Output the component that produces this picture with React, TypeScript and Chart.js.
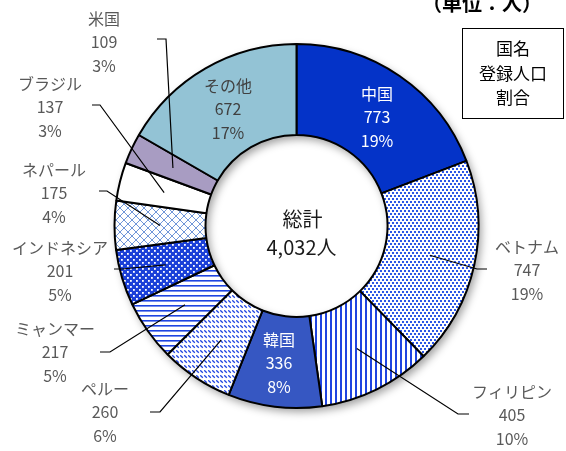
import React, { useEffect, useRef } from "react";
import { Chart, registerables } from "chart.js";

Chart.register(...registerables);

// ---- data ----
const countries = ["中国", "ベトナム", "フィリピン", "韓国", "ペルー", "ミャンマー", "インドネシア", "ネパール", "ブラジル", "米国", "その他"];
const population = [773, 747, 405, 336, 260, 217, 201, 175, 137, 109, 672];
const totalLabel = "総計";
const unitLabel = "人";
const titleText = "（単位：人）";
const legendLines = ["国名", "登録人口", "割合"];

// ---- label layout (text anchor, elbow, leader end) ----
type LabelLayout =
  | { kind: "inside"; tx: number; ty: number; color: string }
  | { kind: "outside"; tx: number; ty: number; ex: number; ey: number; hx: number };

const labelLayout: LabelLayout[] = [
  { kind: "inside", tx: 377, ty: 117, color: "#ffffff" },
  { kind: "outside", tx: 527, ty: 270, ex: 477, ey: 269, hx: 487 },
  { kind: "outside", tx: 512, ty: 415, ex: 458, ey: 414, hx: 469 },
  { kind: "inside", tx: 279, ty: 363, color: "#ffffff" },
  { kind: "outside", tx: 105, ty: 412, ex: 160, ey: 412, hx: 150 },
  { kind: "outside", tx: 55, ty: 352, ex: 110, ey: 352, hx: 100 },
  { kind: "outside", tx: 60, ty: 271, ex: 122, ey: 269, hx: 114 },
  { kind: "outside", tx: 54, ty: 193, ex: 107, ey: 191, hx: 99 },
  { kind: "outside", tx: 50, ty: 107, ex: 100, ey: 105, hx: 92 },
  { kind: "outside", tx: 104, ty: 42, ex: 166, ey: 39, hx: 157 },
  { kind: "inside", tx: 228, ty: 109, color: "#404040" },
];

const FONT = '"Noto Sans CJK JP", "Noto Sans", sans-serif';
const BLUE = "#1f44e0";

function makePattern(w: number, h: number, draw: (g: CanvasRenderingContext2D) => void) {
  const c = document.createElement("canvas");
  c.width = w;
  c.height = h;
  const g = c.getContext("2d")!;
  draw(g);
  return g.createPattern(c, "repeat") as CanvasPattern;
}

function buildFills() {
  const vietnam = makePattern(4, 6, (g) => {
    g.fillStyle = "#fff";
    g.fillRect(0, 0, 4, 6);
    g.fillStyle = "#2c57e6";
    g.fillRect(0, 0, 2, 2);
    g.fillRect(2, 3, 2, 2);
  });
  const philippines = makePattern(5, 5, (g) => {
    g.fillStyle = "#fff";
    g.fillRect(0, 0, 5, 5);
    g.fillStyle = BLUE;
    g.fillRect(0, 0, 2, 5);
  });
  const peru = makePattern(4, 5, (g) => {
    g.fillStyle = "#fff";
    g.fillRect(0, 0, 4, 5);
    g.strokeStyle = BLUE;
    g.lineWidth = 1.3;
    g.beginPath();
    g.moveTo(0.3, 0.3);
    g.lineTo(2.8, 2.8);
    g.stroke();
  });
  const myanmar = makePattern(5, 5, (g) => {
    g.fillStyle = "#fff";
    g.fillRect(0, 0, 5, 5);
    g.fillStyle = BLUE;
    g.fillRect(0, 0, 5, 1.6);
  });
  const indonesia = makePattern(6, 6, (g) => {
    g.fillStyle = "#1b40d8";
    g.fillRect(0, 0, 6, 6);
    g.fillStyle = "#fff";
    g.fillRect(1, 1, 1.8, 1.8);
    g.fillRect(4, 4, 1.8, 1.8);
  });
  const nepal = makePattern(8, 8, (g) => {
    g.fillStyle = "#fff";
    g.fillRect(0, 0, 8, 8);
    g.strokeStyle = "#7096d8";
    g.lineWidth = 1;
    for (const o of [-8, 0, 8]) {
      g.beginPath();
      g.moveTo(0 + o, 0);
      g.lineTo(8 + o, 8);
      g.stroke();
      g.beginPath();
      g.moveTo(8 + o, 0);
      g.lineTo(0 + o, 8);
      g.stroke();
    }
  });
  return [
    "#0433c8",
    vietnam,
    philippines,
    "#3657c2",
    peru,
    myanmar,
    indonesia,
    nepal,
    "#ffffff",
    "#a89cc2",
    "#93c3d5",
  ];
}

const shadowPlugin = {
  id: "ringShadow",
  beforeDatasetsDraw(chart: any) {
    const arc = chart.getDatasetMeta(0).data[0];
    if (!arc) return;
    const { x, y, outerRadius, innerRadius } = arc.getProps(["x", "y", "outerRadius", "innerRadius"], true);
    const ctx = chart.ctx;
    ctx.save();
    ctx.shadowColor = "rgba(0,0,0,0.38)";
    ctx.shadowBlur = 8;
    ctx.shadowOffsetX = 3;
    ctx.shadowOffsetY = 4;
    ctx.beginPath();
    ctx.arc(x, y, outerRadius, 0, Math.PI * 2);
    ctx.arc(x, y, innerRadius, 0, Math.PI * 2, true);
    ctx.fillStyle = "#ffffff";
    ctx.fill();
    ctx.restore();
  },
};

const labelPlugin = {
  id: "sliceLabels",
  afterDatasetsDraw(chart: any) {
    const ctx: CanvasRenderingContext2D = chart.ctx;
    const meta = chart.getDatasetMeta(0);
    const values: number[] = chart.data.datasets[0].data;
    const total = values.reduce((a, b) => a + b, 0);
    ctx.save();
    ctx.textAlign = "center";
    ctx.textBaseline = "middle";
    meta.data.forEach((arc: any, i: number) => {
      const lay = labelLayout[i];
      const lines = [chart.data.labels[i], String(values[i]), Math.round((values[i] / total) * 100) + "%"];
      if (lay.kind === "outside") {
        const p = arc.getProps(["x", "y", "startAngle", "endAngle", "innerRadius", "outerRadius"], true);
        const mid = (p.startAngle + p.endAngle) / 2;
        const r = (p.innerRadius + p.outerRadius) / 2;
        const sx = p.x + Math.cos(mid) * r;
        const sy = p.y + Math.sin(mid) * r;
        ctx.strokeStyle = "#000";
        ctx.lineWidth = 1.2;
        ctx.beginPath();
        ctx.moveTo(sx, sy);
        ctx.lineTo(lay.ex, lay.ey);
        ctx.lineTo(lay.hx, lay.ey);
        ctx.stroke();
        ctx.fillStyle = "#595959";
      } else {
        ctx.fillStyle = lay.color;
      }
      ctx.font = `16px ${FONT}`;
      lines.forEach((t, k) => ctx.fillText(t, lay.tx, lay.ty + (k - 1) * 23.5));
    });

    // center total
    const a0 = meta.data[0];
    const { x, y } = a0.getProps(["x", "y"], true);
    ctx.fillStyle = "#1a1a1a";
    ctx.font = `20px ${FONT}`;
    ctx.fillText(totalLabel, x + 6, y - 7);
    ctx.fillText(total.toLocaleString("en-US") + unitLabel, x + 5, y + 21);

    // title
    ctx.font = `bold 20px ${FONT}`;
    ctx.fillStyle = "#000";
    ctx.fillText(titleText, 482, 3);

    // legend box
    ctx.strokeStyle = "#000";
    ctx.lineWidth = 1;
    ctx.strokeRect(462.5, 28.5, 101, 90);
    ctx.font = `17px ${FONT}`;
    legendLines.forEach((t, k) => ctx.fillText(t, 513, 49 + k * 24.5));
    ctx.restore();
  },
};

export default function App() {
  const ref = useRef<HTMLCanvasElement>(null);
  useEffect(() => {
    document.body.style.margin = "0";
    const canvas = ref.current!;
    const chart = new Chart(canvas, {
      type: "doughnut",
      data: {
        labels: countries,
        datasets: [
          {
            data: population,
            backgroundColor: buildFills() as any,
            borderColor: "#000",
            borderWidth: 2,
            hoverOffset: 0,
          },
        ],
      },
      options: {
        responsive: false,
        animation: false,
        radius: 182,
        cutout: "50%",
        layout: { padding: { left: 115, right: 88, top: 44, bottom: 43 } },
        plugins: {
          legend: { display: false },
          tooltip: { enabled: false },
        },
        events: [],
      } as any,
      plugins: [shadowPlugin, labelPlugin],
    });
    return () => chart.destroy();
  }, []);
  return (
    <div style={{ width: 566, height: 451, background: "#fff" }}>
      <canvas ref={ref} width={566} height={451} />
    </div>
  );
}
